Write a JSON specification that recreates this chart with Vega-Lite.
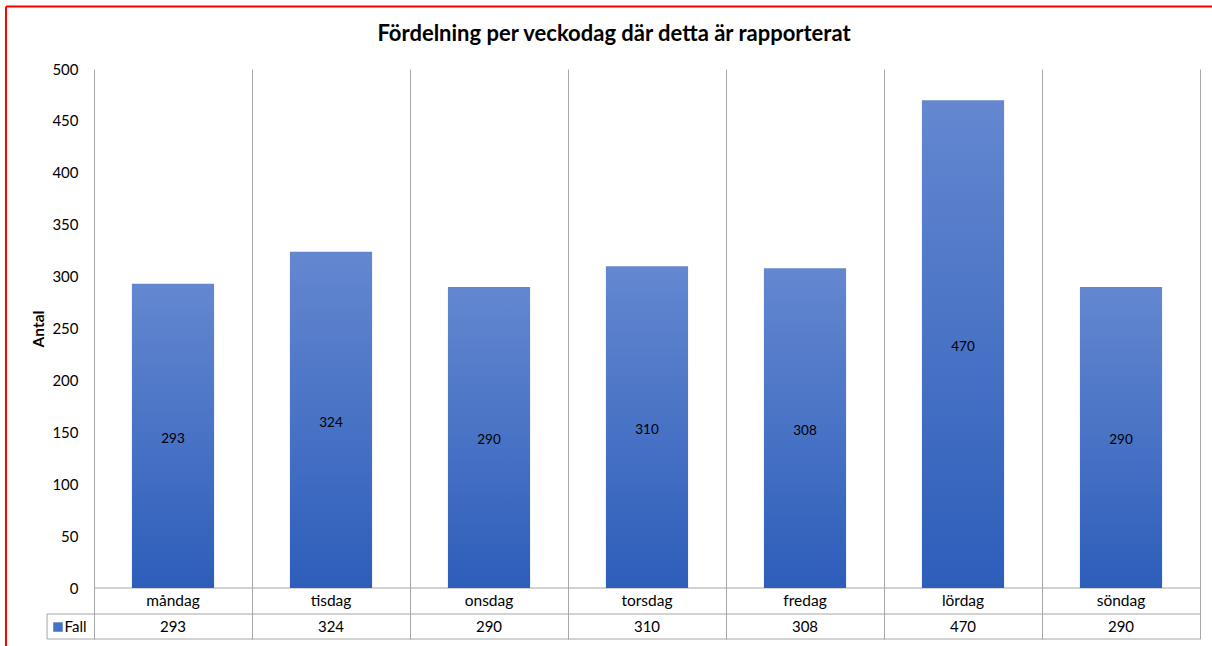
{
  "$schema": "https://vega.github.io/schema/vega-lite/v6.json",
  "autosize": {"type": "none"},
  "width": 1106,
  "height": 570,
  "padding": {"left": 94, "top": 69, "right": 12, "bottom": 7},
  "background": "white",
  "config": {"view": {"stroke": null}, "font": "Lato"},
  "title": {
    "text": "Fördelning per veckodag där detta är rapporterat",
    "font": "Lato",
    "fontSize": 22,
    "fontWeight": "bold",
    "color": "#000000",
    "anchor": "middle",
    "baseline": "alphabetic",
    "dx": -33,
    "offset": -57
  },
  "data": {
    "values": [
      {"day": "måndag", "Fall": 293},
      {"day": "tisdag", "Fall": 324},
      {"day": "onsdag", "Fall": 290},
      {"day": "torsdag", "Fall": 310},
      {"day": "fredag", "Fall": 308},
      {"day": "lördag", "Fall": 470},
      {"day": "söndag", "Fall": 290}
    ]
  },
  "resolve": {"scale": {"x": "independent", "y": "independent"}, "axis": {"x": "independent", "y": "independent"}},
  "layer": [
    {
      "data": {"values": [{}]},
      "mark": {"type": "rule", "color": "#a6a6a6", "strokeWidth": 1},
      "encoding": {
        "x": {"datum": 0, "type": "quantitative", "scale": {"domain": [0, 7], "nice": false, "zero": false},
          "axis": {"values": [0, 1, 2, 3, 4, 5, 6, 7], "grid": true, "gridColor": "#a6a6a6", "gridWidth": 1, "labels": false, "ticks": false, "domain": false, "title": null}},
        "x2": {"datum": 7},
        "y": {"datum": 0, "type": "quantitative", "scale": {"domain": [-49.13, 500], "nice": false, "zero": false}, "axis": null}
      }
    },
    {
      "data": {"values": [{}]},
      "mark": {"type": "rule", "color": "#a6a6a6", "strokeWidth": 1},
      "encoding": {
        "x": {"datum": -0.297, "type": "quantitative", "scale": {"domain": [0, 7], "nice": false, "zero": false}, "axis": null},
        "x2": {"datum": 7},
        "y": {"datum": -25.05, "type": "quantitative", "scale": {"domain": [-49.13, 500], "nice": false, "zero": false}, "axis": null}
      }
    },
    {
      "data": {"values": [{}]},
      "mark": {"type": "rule", "color": "#a6a6a6", "strokeWidth": 1},
      "encoding": {
        "x": {"datum": -0.297, "type": "quantitative", "scale": {"domain": [0, 7], "nice": false, "zero": false}, "axis": null},
        "x2": {"datum": 7},
        "y": {"datum": -49.13, "type": "quantitative", "scale": {"domain": [-49.13, 500], "nice": false, "zero": false}, "axis": null}
      }
    },
    {
      "data": {"values": [{}]},
      "mark": {"type": "rule", "color": "#a6a6a6", "strokeWidth": 1},
      "encoding": {
        "x": {"datum": -0.297, "type": "quantitative", "scale": {"domain": [0, 7], "nice": false, "zero": false}, "axis": null},
        "y": {"datum": -25.05, "type": "quantitative", "scale": {"domain": [-49.13, 500], "nice": false, "zero": false}, "axis": null},
        "y2": {"datum": -49.13}
      }
    },
    {
      "data": {"values": [{}]},
      "mark": {"type": "rule", "color": "#ff0000", "strokeWidth": 2},
      "encoding": {
        "x": {"datum": -0.557, "type": "quantitative", "scale": {"domain": [0, 7], "nice": false, "zero": false}, "axis": null},
        "x2": {"datum": 7.2},
        "y": {"datum": 560.2, "type": "quantitative", "scale": {"domain": [-49.13, 500], "nice": false, "zero": false}, "axis": null}
      }
    },
    {
      "data": {"values": [{}]},
      "mark": {"type": "rule", "color": "#ff0000", "strokeWidth": 2},
      "encoding": {
        "x": {"datum": -0.557, "type": "quantitative", "scale": {"domain": [0, 7], "nice": false, "zero": false}, "axis": null},
        "y": {"datum": 560.2, "type": "quantitative", "scale": {"domain": [-49.13, 500], "nice": false, "zero": false}, "axis": null},
        "y2": {"datum": -60}
      }
    },
    {
      "mark": {
        "type": "bar",
        "color": {
          "gradient": "linear",
          "x1": 0, "y1": 0, "x2": 0, "y2": 1,
          "stops": [
            {"offset": 0, "color": "#6487d0"},
            {"offset": 1, "color": "#2d5eba"}
          ]
        }
      },
      "encoding": {
        "x": {"field": "day", "type": "nominal", "sort": null,
          "scale": {"paddingInner": 0.48, "paddingOuter": 0.24}, "axis": null},
        "y": {"field": "Fall", "type": "quantitative",
          "scale": {"domain": [-49.13, 500], "nice": false, "zero": false},
          "axis": {
            "values": [0, 50, 100, 150, 200, 250, 300, 350, 400, 450, 500],
            "grid": false, "ticks": false, "domain": false,
            "labelFont": "Lato", "labelFontSize": 15, "labelColor": "#000000", "labelPadding": 16,
            "title": "Antal", "titleFont": "Lato", "titleFontSize": 15.5, "titleFontWeight": "bold", "titleColor": "#000000",
            "titleX": -48, "titleY": 259.5, "titleAngle": -90, "titleAlign": "center", "titleBaseline": "bottom"
          }
        }
      }
    },
    {
      "mark": {"type": "text", "fontSize": 13.5, "color": "#000000", "baseline": "middle", "align": "center", "dy": 3},
      "encoding": {
        "x": {"field": "day", "type": "nominal", "sort": null,
          "scale": {"paddingInner": 0.48, "paddingOuter": 0.24}, "axis": null},
        "y": {"field": "Fall", "type": "quantitative",
          "scale": {"domain": [-98.26, 1000], "nice": false, "zero": false}, "axis": null},
        "text": {"field": "Fall", "type": "quantitative"}
      }
    },
    {
      "mark": {"type": "text", "fontSize": 15.5, "color": "#000000", "baseline": "middle", "align": "center"},
      "encoding": {
        "x": {"field": "day", "type": "nominal", "sort": null,
          "scale": {"paddingInner": 0.48, "paddingOuter": 0.24}, "axis": null},
        "y": {"datum": -12.5, "type": "quantitative",
          "scale": {"domain": [-49.13, 500], "nice": false, "zero": false}, "axis": null},
        "text": {"field": "day", "type": "nominal"}
      }
    },
    {
      "mark": {"type": "text", "fontSize": 15, "color": "#000000", "baseline": "middle", "align": "center"},
      "encoding": {
        "x": {"field": "day", "type": "nominal", "sort": null,
          "scale": {"paddingInner": 0.48, "paddingOuter": 0.24}, "axis": null},
        "y": {"datum": -37.6, "type": "quantitative",
          "scale": {"domain": [-49.13, 500], "nice": false, "zero": false}, "axis": null},
        "text": {"field": "Fall", "type": "quantitative"}
      }
    },
    {
      "data": {"values": [{"series": "Fall"}]},
      "mark": {"type": "point", "shape": "square", "filled": true, "size": 90, "color": "#4472c4", "opacity": 1},
      "encoding": {
        "x": {"datum": -0.228, "type": "quantitative", "scale": {"domain": [0, 7], "nice": false, "zero": false}, "axis": null},
        "y": {"datum": -37.6, "type": "quantitative",
          "scale": {"domain": [-49.13, 500], "nice": false, "zero": false}, "axis": null}
      }
    },
    {
      "data": {"values": [{"series": "Fall"}]},
      "mark": {"type": "text", "fontSize": 15, "color": "#000000", "baseline": "middle", "align": "left"},
      "encoding": {
        "x": {"datum": -0.186, "type": "quantitative", "scale": {"domain": [0, 7], "nice": false, "zero": false}, "axis": null},
        "y": {"datum": -37.6, "type": "quantitative",
          "scale": {"domain": [-49.13, 500], "nice": false, "zero": false}, "axis": null},
        "text": {"field": "series", "type": "nominal"}
      }
    }
  ]
}
